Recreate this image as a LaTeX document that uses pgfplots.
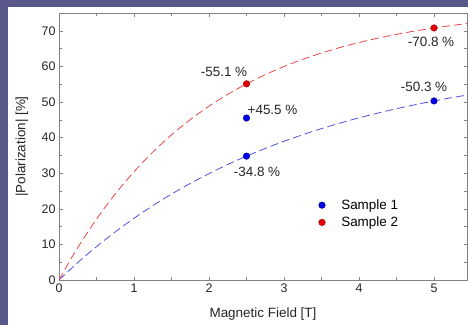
\documentclass[border=0pt]{standalone}
\usepackage{fontspec}
\setmainfont{Liberation Sans}
\usepackage{pgfplots}
\pgfplotsset{compat=1.18}
\definecolor{slate}{RGB}{88,88,138}
\definecolor{mblue}{RGB}{0,0,230}
\definecolor{mred}{RGB}{230,0,0}
\definecolor{lblue}{RGB}{80,80,225}
\definecolor{lred}{RGB}{238,70,70}
\definecolor{axgray}{RGB}{130,130,130}
\begin{document}
\begin{tikzpicture}[x=1bp,y=1bp]
\path[use as bounding box] (0,0) rectangle (468,325);
\fill[slate] (0,0) rectangle (468,325);
\fill[white] (8,0) rectangle (468,318);
\begin{axis}[
  at={(59bp,45bp)}, anchor=south west,
  scale only axis, width=408bp, height=267bp,
  xmin=0, xmax=5.44, ymin=0, ymax=75,
  xtick={0,1,2,3,4,5}, ytick={0,10,20,30,40,50,60,70},
  minor x tick num=1, minor y tick num=1,
  tick align=inside,
  major tick length=3.5bp, minor tick length=3bp,
  axis line style={axgray, line width=0.9pt},
  every tick/.style={axgray, line width=0.6pt},
  /pgf/number format/assume math mode=true,
  tick label style={font=\fontsize{12.5}{14}\selectfont, text=black!85},
  label style={font=\fontsize{13.5}{16}\selectfont, text=black!85},
  xlabel={Magnetic Field [T]},
  ylabel={|Polarization| [\%]},
  xlabel style={at={(axis description cs:0.5,-0.128)}, anchor=center},
  ylabel style={at={(axis description cs:-0.091,0.5)}, anchor=center},
  legend style={at={(axis cs:3.42,18.6)}, anchor=west, draw=none, fill=none,
    font=\fontsize{13.5}{15}\selectfont, row sep=2bp,
    /tikz/every odd column/.append style={column sep=14bp}},
]
\addplot[lblue, line width=0.8pt, dash pattern=on 8bp off 4bp, smooth, forget plot] coordinates {
(0,0) (0.25,4.88) (0.5,9.37) (0.75,13.52) (1.0,17.34) (1.25,20.87) (1.5,24.13)
(1.75,27.13) (2.0,29.89) (2.25,32.45) (2.5,34.80) (2.75,36.97) (3.0,38.97)
(3.25,40.82) (3.5,42.53) (3.75,44.10) (4.0,45.55) (4.25,46.88) (4.5,48.12)
(4.75,49.25) (5.0,50.30) (5.25,51.27) (5.5,52.16)};
\addplot[lred, line width=0.8pt, dash pattern=on 8bp off 4bp, smooth, forget plot] coordinates {
(0,0) (0.125,4.70) (0.25,9.09) (0.5,17.11) (0.75,24.17) (1.0,30.42) (1.25,35.92) (1.5,40.77)
(1.75,45.05) (2.0,48.83) (2.25,52.15) (2.5,55.09) (2.75,57.68) (3.0,59.97)
(3.25,61.99) (3.5,63.76) (3.75,65.33) (4.0,66.71) (4.25,67.93) (4.5,69.01)
(4.75,69.96) (5.0,70.79) (5.25,71.53) (5.5,72.19)};
\addplot[only marks, mark=*, mark size=3.3bp, mark options={fill=mblue, draw=mblue!60!black, line width=0.4pt}] coordinates {
(2.5,34.8) (2.5,45.5) (5.0,50.3)};
\addlegendentry{Sample 1}
\addplot[only marks, mark=*, mark size=3.3bp, mark options={fill=mred, draw=mred!60!black, line width=0.4pt}] coordinates {
(2.5,55.1) (5.0,70.8)};
\addlegendentry{Sample 2}
\node[font=\fontsize{13.5}{15}\selectfont, text=black!85] at (axis cs:2.2,58.5) {-55.1 \%};
\node[font=\fontsize{13.5}{15}\selectfont, text=black!85] at (axis cs:2.847,47.8) {+45.5 \%};
\node[font=\fontsize{13.5}{15}\selectfont, text=black!85] at (axis cs:2.64,30.4) {-34.8 \%};
\node[font=\fontsize{13.5}{15}\selectfont, text=black!85] at (axis cs:4.96,66.9) {-70.8 \%};
\node[font=\fontsize{13.5}{15}\selectfont, text=black!85] at (axis cs:4.867,54.3) {-50.3 \%};
\end{axis}
\end{tikzpicture}
\end{document}
